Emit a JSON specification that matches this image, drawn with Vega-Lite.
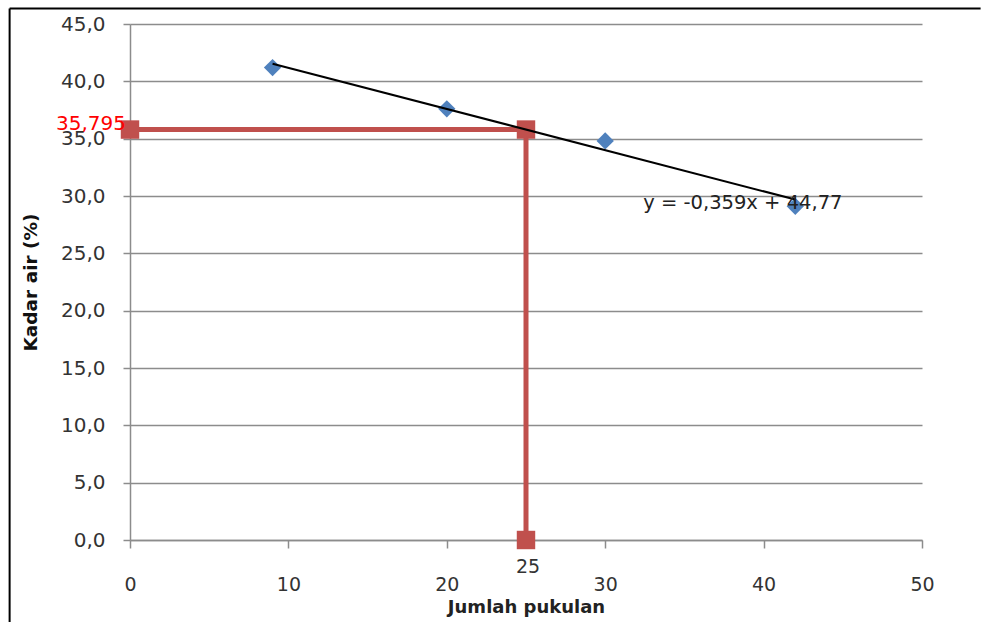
{
  "$schema": "https://vega.github.io/schema/vega-lite/v6.json",
  "autosize": {"type": "none"},
  "width": 792,
  "height": 516,
  "padding": {"left": 130, "top": 24, "right": 59, "bottom": 82},
  "background": "white",
  "config": {
    "view": {"stroke": null},
    "font": "DejaVu Sans",
    "locale": {"number": {"decimal": ",", "thousands": ".", "grouping": [3], "currency": ["", ""]}}
  },
  "datasets": {
    "measured": [
      {"pukulan": 9, "kadar": 41.2},
      {"pukulan": 20, "kadar": 37.6},
      {"pukulan": 30, "kadar": 34.8},
      {"pukulan": 42, "kadar": 29.1}
    ],
    "trend": [
      {"pukulan": 9, "kadar": 41.54},
      {"pukulan": 42, "kadar": 29.69}
    ],
    "reading": [
      {"step": 1, "pukulan": 0, "kadar": 35.795},
      {"step": 2, "pukulan": 25, "kadar": 35.795},
      {"step": 3, "pukulan": 25, "kadar": 0}
    ],
    "equation": [
      {"pukulan": 32.4, "kadar": 29.4, "label": "y = -0,359x + 44,77"}
    ],
    "frame": [
      {"x1": -7.6, "x2": 53.7, "y1": 46.35, "y2": 46.35},
      {"x1": -7.6, "x2": -7.6, "y1": 46.35, "y2": -7.2}
    ]
  },
  "layer": [
    {
      "data": {"name": "frame"},
      "mark": {"type": "rule", "color": "black", "strokeWidth": 2},
      "encoding": {
        "x": {"field": "x1", "type": "quantitative", "scale": {"domain": [0, 50], "nice": false}},
        "x2": {"field": "x2"},
        "y": {"field": "y1", "type": "quantitative", "scale": {"domain": [0, 45], "nice": false}},
        "y2": {"field": "y2"}
      }
    },
    {
      "data": {"name": "reading"},
      "mark": {"type": "line", "color": "#C0504D", "strokeWidth": 5, "strokeCap": "butt"},
      "encoding": {
        "x": {"field": "pukulan", "type": "quantitative",
          "scale": {"domain": [0, 50], "nice": false},
          "axis": {
            "values": [0, 10, 20, 30, 40, 50],
            "title": "Jumlah pukulan",
            "grid": false,
            "labelFlush": false,
            "domainColor": "#8c8c8c", "domainWidth": 1.5,
            "tickColor": "#8c8c8c", "tickWidth": 1.5, "tickSize": 8,
            "labelFontSize": 19, "labelColor": "#333333", "labelPadding": 27,
            "titleFontSize": 18, "titleFontWeight": "bold", "titleColor": "#222222", "titlePadding": 4
          }
        },
        "y": {"field": "kadar", "type": "quantitative",
          "scale": {"domain": [0, 45], "nice": false},
          "axis": {
            "values": [0, 5, 10, 15, 20, 25, 30, 35, 40, 45],
            "format": ".1f",
            "title": "Kadar air (%)",
            "grid": true, "gridColor": "#8c8c8c", "gridWidth": 1.5,
            "labelFlush": false,
            "domainColor": "#8c8c8c", "domainWidth": 1.5,
            "tickColor": "#8c8c8c", "tickWidth": 1.5, "tickSize": 7,
            "labelFontSize": 20, "labelColor": "#333333", "labelPadding": 18,
            "titleFontSize": 18.5, "titleFontWeight": "bold", "titleColor": "#111111", "titlePadding": 20
          }
        },
        "order": {"field": "step"}
      }
    },
    {
      "data": {"name": "reading"},
      "mark": {"type": "point", "shape": "square", "filled": true, "color": "#C0504D", "opacity": 1, "size": 340},
      "encoding": {
        "x": {"field": "pukulan", "type": "quantitative"},
        "y": {"field": "kadar", "type": "quantitative"}
      }
    },
    {
      "data": {"name": "measured"},
      "mark": {"type": "point", "shape": "diamond", "filled": true, "color": "#4F81BD", "opacity": 1, "size": 300},
      "encoding": {
        "x": {"field": "pukulan", "type": "quantitative"},
        "y": {"field": "kadar", "type": "quantitative"}
      }
    },
    {
      "data": {"name": "trend"},
      "mark": {"type": "line", "color": "black", "strokeWidth": 2},
      "encoding": {
        "x": {"field": "pukulan", "type": "quantitative"},
        "y": {"field": "kadar", "type": "quantitative"}
      }
    },
    {
      "data": {"name": "reading"},
      "transform": [{"filter": "datum.step == 1"}],
      "mark": {"type": "text", "color": "#FF0000", "fontSize": 20, "align": "right", "baseline": "middle", "dx": -4, "dy": -6},
      "encoding": {
        "x": {"field": "pukulan", "type": "quantitative"},
        "y": {"field": "kadar", "type": "quantitative"},
        "text": {"field": "kadar", "type": "quantitative", "format": ".3f"}
      }
    },
    {
      "data": {"name": "reading"},
      "transform": [{"filter": "datum.step == 3"}],
      "mark": {"type": "text", "color": "#333333", "fontSize": 19, "align": "center", "baseline": "middle", "dx": 2, "dy": 27},
      "encoding": {
        "x": {"field": "pukulan", "type": "quantitative"},
        "y": {"field": "kadar", "type": "quantitative"},
        "text": {"field": "pukulan", "type": "quantitative", "format": "d"}
      }
    },
    {
      "data": {"name": "equation"},
      "mark": {"type": "text", "color": "#222222", "fontSize": 19.5, "align": "left", "baseline": "middle"},
      "encoding": {
        "x": {"field": "pukulan", "type": "quantitative"},
        "y": {"field": "kadar", "type": "quantitative"},
        "text": {"field": "label"}
      }
    }
  ]
}
